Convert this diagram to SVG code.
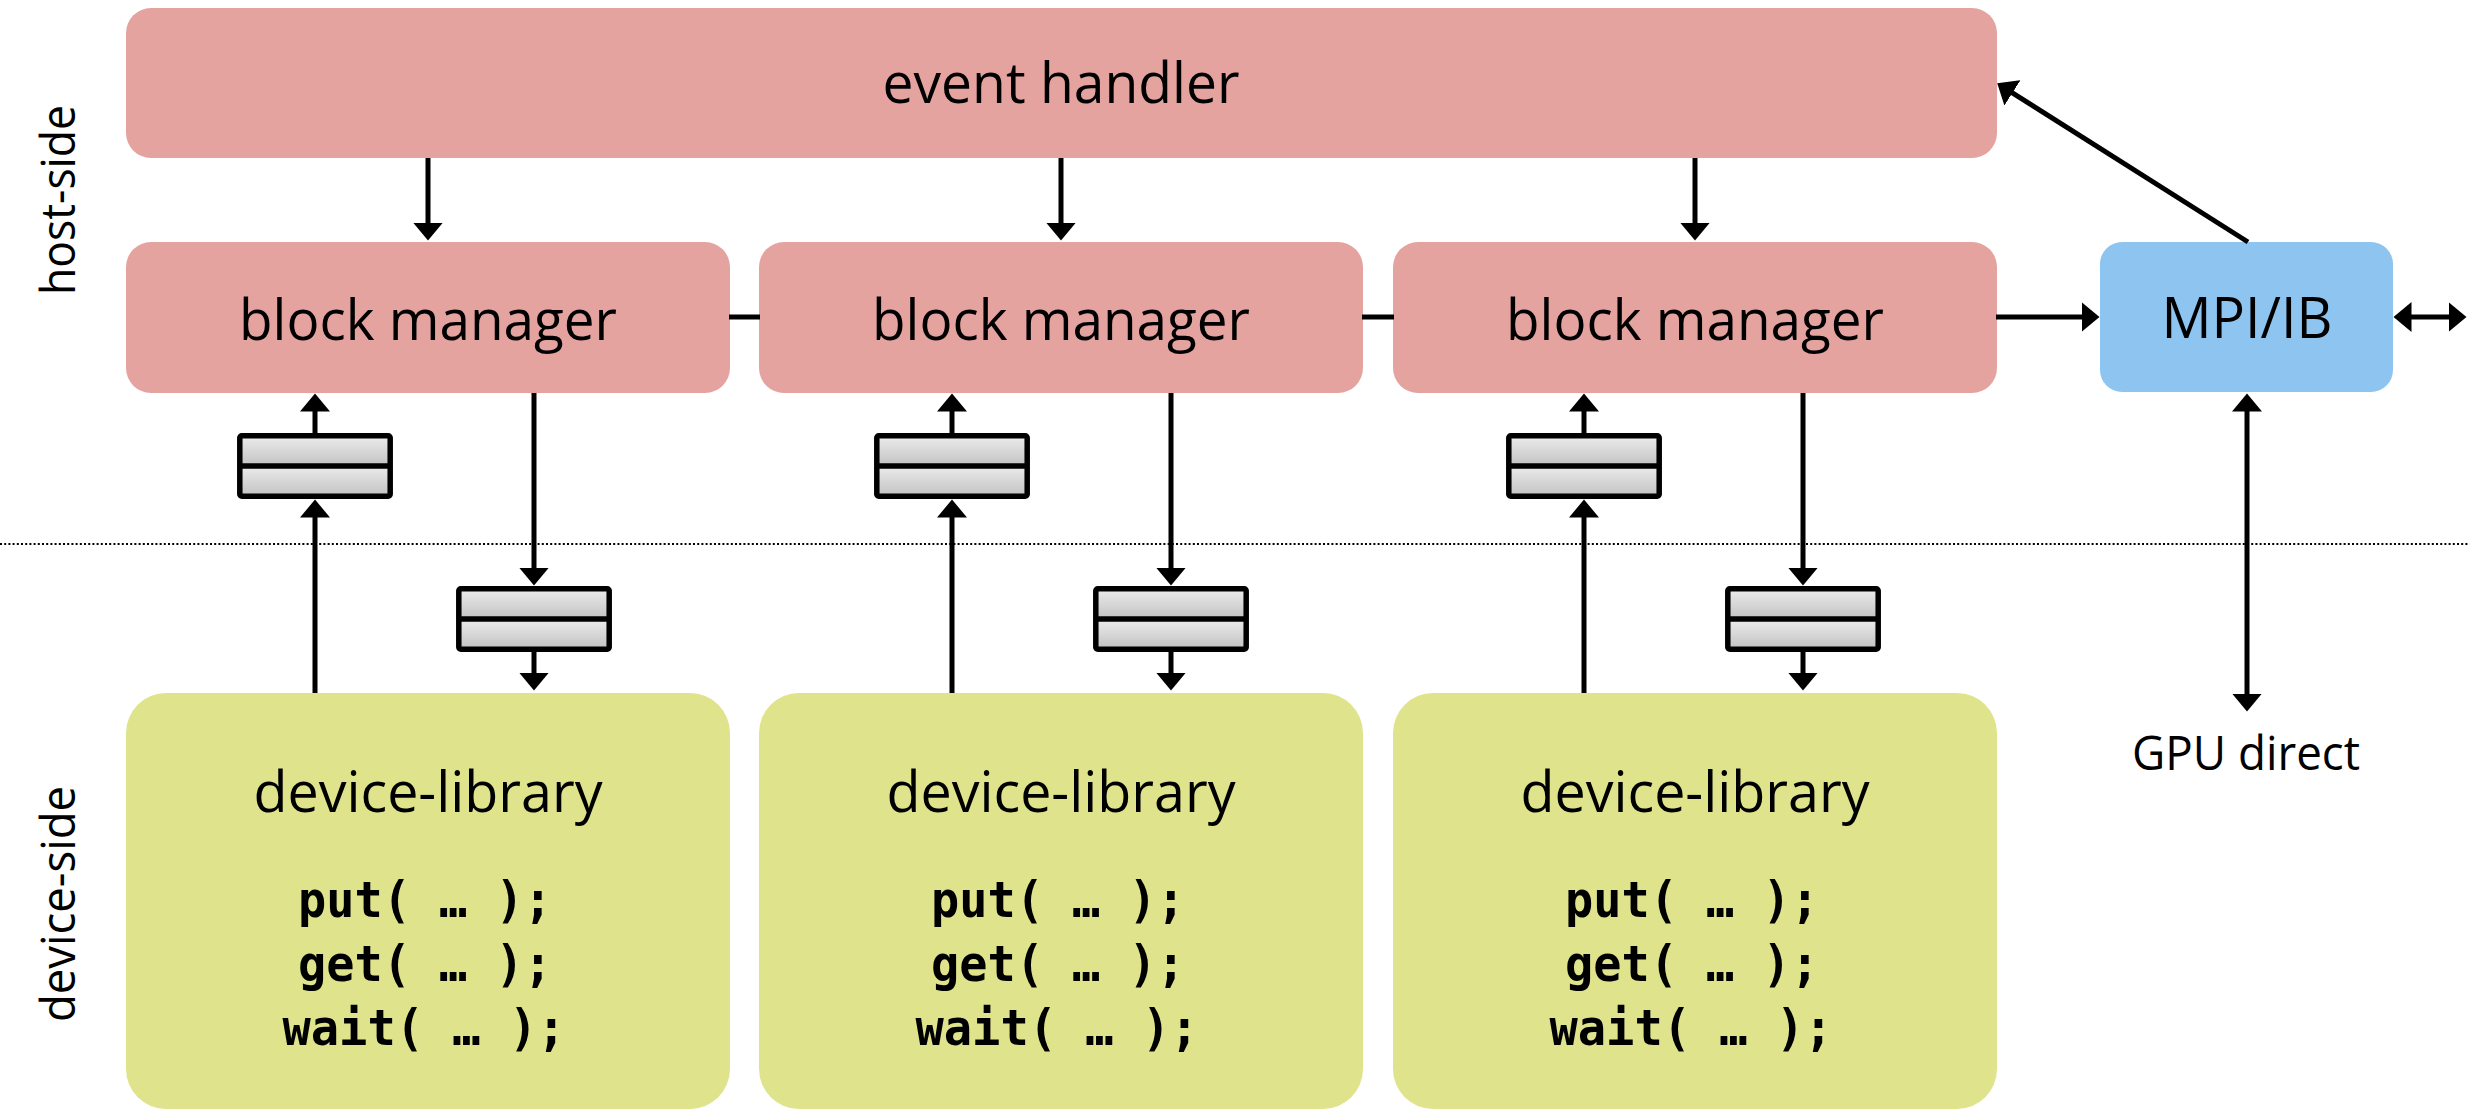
<svg xmlns="http://www.w3.org/2000/svg" width="2469" height="1113" viewBox="0 0 2469 1113">
  <defs>
    <style>
      .host { fill: #E5A3A0; }
      .dev { fill: #DFE48C; }
      .net { fill: #8EC4F0; }
      .lbl { font-family: "Open Sans", "Noto Sans", sans-serif; fill: #000; text-anchor: middle; }
      .big { font-size: 57px; }
      .side { font-size: 47px; }
      .code { font-family: "DejaVu Sans Mono", "Liberation Mono", monospace; font-weight: bold; font-size: 50px; fill: #000; text-anchor: middle; }
      .wire { stroke: #000; stroke-width: 5; fill: none; }
      .arrow { stroke: #000; stroke-width: 5; fill: none; marker-end: url(#head); }
      .arrow2 { stroke: #000; stroke-width: 5; fill: none; marker-start: url(#head); marker-end: url(#head); }
      .qbox { stroke: #000; stroke-width: 5.5; }
    </style>
    <marker id="head" markerUnits="userSpaceOnUse" markerWidth="19" markerHeight="30" refX="0.5" refY="15" orient="auto-start-reverse" viewBox="0 0 19 30">
      <path d="M0,0 L18,15 L0,30 Z" fill="#000"/>
    </marker>
    <linearGradient id="qfill" x1="0" y1="0" x2="0" y2="1">
      <stop offset="0" stop-color="#ececec"/>
      <stop offset="1" stop-color="#c2c2c2"/>
    </linearGradient>
    <!-- queue: two stacked slots with a gradient fill, centred on (0,0) -->
    <g id="queue">
      <rect x="-75" y="-30" width="150" height="30" fill="url(#qfill)"/>
      <rect x="-75" y="0" width="150" height="30" fill="url(#qfill)"/>
      <rect class="qbox" x="-75.2" y="-30.2" width="150.4" height="60.4" rx="2" fill="none"/>
      <line x1="-75" y1="0" x2="75" y2="0" stroke="#000" stroke-width="5.5"/>
    </g>
  </defs>

  <rect width="2469" height="1113" fill="#fff"/>

  <!-- host / device boundary -->
  <line x1="0" y1="544" x2="2469" y2="544" stroke="#000" stroke-width="2" stroke-dasharray="2 2.2"/>

  <g id="label-host-side">
    <text class="lbl side" transform="translate(75,200) rotate(-90)" textLength="190" lengthAdjust="spacingAndGlyphs">host-side</text>
  </g>
  <g id="label-device-side">
    <text class="lbl side" transform="translate(75,904) rotate(-90)" textLength="236" lengthAdjust="spacingAndGlyphs">device-side</text>
  </g>

  <g id="event-handler">
    <rect class="host" x="126" y="8" width="1871" height="150" rx="25"/>
    <text class="lbl big" x="1061" y="103" textLength="357" lengthAdjust="spacingAndGlyphs">event handler</text>
  </g>

  <g id="block-manager-1">
    <rect class="host" x="126" y="242" width="604" height="151" rx="25"/>
    <text class="lbl big" x="428" y="340" textLength="378" lengthAdjust="spacingAndGlyphs">block manager</text>
  </g>
  <g id="block-manager-2">
    <rect class="host" x="759" y="242" width="604" height="151" rx="25"/>
    <text class="lbl big" x="1061" y="340" textLength="378" lengthAdjust="spacingAndGlyphs">block manager</text>
  </g>
  <g id="block-manager-3">
    <rect class="host" x="1393" y="242" width="604" height="151" rx="25"/>
    <text class="lbl big" x="1695" y="340" textLength="378" lengthAdjust="spacingAndGlyphs">block manager</text>
  </g>

  <g id="mpi-ib">
    <rect class="net" x="2100" y="242" width="293" height="150" rx="22"/>
    <text class="lbl big" x="2247" y="338" textLength="171" lengthAdjust="spacingAndGlyphs">MPI/IB</text>
  </g>

  <g id="gpu-direct">
    <text class="lbl side" x="2246" y="770" textLength="228" lengthAdjust="spacingAndGlyphs">GPU direct</text>
  </g>

  <g id="device-library-1">
    <rect class="dev" x="126" y="693" width="604" height="416" rx="40"/>
    <text class="lbl big" x="428" y="812" textLength="349" lengthAdjust="spacingAndGlyphs">device-library</text>
    <text class="code" x="425" y="917" textLength="254" lengthAdjust="spacingAndGlyphs">put( … );</text>
    <text class="code" x="425" y="981" textLength="254" lengthAdjust="spacingAndGlyphs">get( … );</text>
    <text class="code" x="424" y="1045" textLength="283" lengthAdjust="spacingAndGlyphs">wait( … );</text>
  </g>
  <g id="device-library-2">
    <rect class="dev" x="759" y="693" width="604" height="416" rx="40"/>
    <text class="lbl big" x="1061" y="812" textLength="349" lengthAdjust="spacingAndGlyphs">device-library</text>
    <text class="code" x="1058" y="917" textLength="254" lengthAdjust="spacingAndGlyphs">put( … );</text>
    <text class="code" x="1058" y="981" textLength="254" lengthAdjust="spacingAndGlyphs">get( … );</text>
    <text class="code" x="1057" y="1045" textLength="283" lengthAdjust="spacingAndGlyphs">wait( … );</text>
  </g>
  <g id="device-library-3">
    <rect class="dev" x="1393" y="693" width="604" height="416" rx="40"/>
    <text class="lbl big" x="1695" y="812" textLength="349" lengthAdjust="spacingAndGlyphs">device-library</text>
    <text class="code" x="1692" y="917" textLength="254" lengthAdjust="spacingAndGlyphs">put( … );</text>
    <text class="code" x="1692" y="981" textLength="254" lengthAdjust="spacingAndGlyphs">get( … );</text>
    <text class="code" x="1691" y="1045" textLength="283" lengthAdjust="spacingAndGlyphs">wait( … );</text>
  </g>

  <g id="queues">
    <use href="#queue" x="315" y="466"/>
    <use href="#queue" x="534" y="619"/>
    <use href="#queue" x="952" y="466"/>
    <use href="#queue" x="1171" y="619"/>
    <use href="#queue" x="1584" y="466"/>
    <use href="#queue" x="1803" y="619"/>
  </g>

  <g id="connectors">
    <!-- event handler to block managers -->
    <line class="arrow" x1="428" y1="158" x2="428" y2="223"/>
    <line class="arrow" x1="1061" y1="158" x2="1061" y2="223"/>
    <line class="arrow" x1="1695" y1="158" x2="1695" y2="223"/>
    <!-- links between block managers -->
    <line class="wire" x1="729" y1="317" x2="760" y2="317"/>
    <line class="wire" x1="1362" y1="317" x2="1394" y2="317"/>
    <!-- block manager to MPI/IB, and onward -->
    <line class="arrow" x1="1996" y1="317" x2="2082" y2="317"/>
    <line class="arrow2" x1="2411" y1="317" x2="2449" y2="317"/>
    <line class="arrow" x1="2248" y1="242" x2="2012" y2="92.6"/>
    <line class="arrow2" x1="2247" y1="411" x2="2247" y2="694"/>
    <!-- column 1 -->
    <line class="arrow" x1="315" y1="693" x2="315" y2="517"/>
    <line class="arrow" x1="315" y1="434" x2="315" y2="411"/>
    <line class="arrow" x1="534" y1="393" x2="534" y2="568"/>
    <line class="arrow" x1="534" y1="651" x2="534" y2="673"/>
    <!-- column 2 -->
    <line class="arrow" x1="952" y1="693" x2="952" y2="517"/>
    <line class="arrow" x1="952" y1="434" x2="952" y2="411"/>
    <line class="arrow" x1="1171" y1="393" x2="1171" y2="568"/>
    <line class="arrow" x1="1171" y1="651" x2="1171" y2="673"/>
    <!-- column 3 -->
    <line class="arrow" x1="1584" y1="693" x2="1584" y2="517"/>
    <line class="arrow" x1="1584" y1="434" x2="1584" y2="411"/>
    <line class="arrow" x1="1803" y1="393" x2="1803" y2="568"/>
    <line class="arrow" x1="1803" y1="651" x2="1803" y2="673"/>
  </g>
</svg>
